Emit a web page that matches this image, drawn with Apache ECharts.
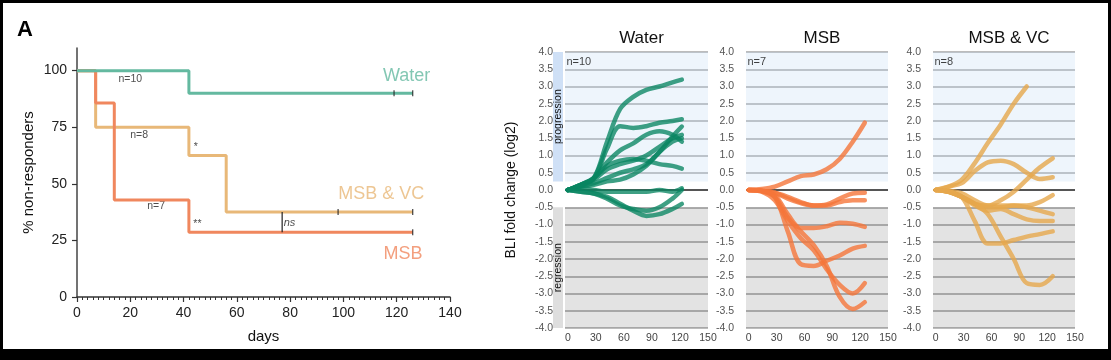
<!DOCTYPE html>
<html><head><meta charset="utf-8">
<script src="https://cdn.jsdelivr.net/npm/echarts@6/dist/echarts.min.js"></script>
<style>
html,body{margin:0;padding:0;background:#fff;}
#c{position:absolute;left:0;top:0;width:1111px;height:360px;}
#frame{position:absolute;left:0;top:0;width:1111px;height:360px;box-sizing:border-box;border-style:solid;border-color:#000;border-width:3px 3px 11px 3px;pointer-events:none;}
</style></head><body>
<div id="c"></div><div id="frame"></div>
<script>
// ---------- Kaplan-Meier (left) ----------
const kmDaysWater = [0, 42, 126];
const kmWater     = [100, 90, 90];
const kmDaysMSB   = [0, 7, 14, 42, 126];
const kmMSB       = [100, 85.7, 42.9, 28.6, 28.6];
const kmDaysVC    = [0, 7, 42, 56, 126];
const kmVC        = [100, 75, 62.5, 37.5, 37.5];
const censorWater = [[119, 90], [126, 90]];
const censorMSB   = [[126, 28.6]];
const censorVC    = [[98, 37.5], [126, 37.5]];
const nsBar       = [[77, 37.5], [77, 28.6]];
const kmYTicks    = [0, 25, 50, 75, 100];
const kmNotes     = [['n=10', 20, 96.2], ['n=8', 23.3, 71.5], ['*', 44.6, 66.4], ['n=7', 29.7, 40.2], ['**', 45.2, 32.3]];
const kmGroupLabels = [['Water', 123.7, 97.7], ['MSB & VC', 114.2, 45.5], ['MSB', 122.4, 19.1]];

// ---------- BLI fold change (right) ----------
const bliTicksX = [0, 30, 60, 90, 120, 150];
const waterDays = [0, 14, 28, 42, 56, 70, 84, 98, 112, 122];
const waterLines = [
  [0, 0.15, 0.35, 1.4, 2.35, 2.7, 2.9, 3.0, 3.12, 3.2],
  [0, 0.15, 0.35, 1.2, 1.85, 1.8, 1.85, 1.95, 2.0, 2.05],
  [0, 0.15, 0.35, 0.8, 1.15, 1.35, 1.6, 1.7, 1.6, 1.4],
  [0, 0.12, 0.3, 0.6, 0.75, 0.85, 1.0, 1.25, 1.5, 1.6],
  [0, 0.1, 0.2, 0.35, 0.5, 0.6, 0.75, 1.1, 1.55, 1.84],
  [0, 0.15, 0.35, 0.7, 0.85, 0.9, 0.85, 0.75, 0.7, 0.62],
  [0, 0.1, 0.15, 0.25, 0.3, 0.45, 0.7, 1.1, 1.4, 1.5],
  [0, 0.05, 0, -0.05, -0.05, -0.05, -0.05, 0, -0.05, 0.05],
  [0, -0.05, -0.1, -0.2, -0.4, -0.6, -0.75, -0.7, -0.55, -0.4],
  [0, -0.05, -0.1, -0.25, -0.45, -0.55, -0.6, -0.5, -0.25, 0.0]
];
const msbDays = [0, 14, 28, 42, 56, 70, 84, 98, 112, 125];
const msbLines = [
  [0, 0.03, 0.1, 0.25, 0.4, 0.45, 0.6, 0.9, 1.4, 1.95],
  [0, -0.02, -0.08, -0.2, -0.35, -0.45, -0.42, -0.25, -0.1, -0.08],
  [0, -0.02, -0.08, -0.25, -0.38, -0.45, -0.45, -0.35, -0.3, -0.3],
  [0, -0.03, -0.15, -0.7, -1.1, -1.1, -1.05, -0.95, -0.98, -1.07],
  [0, -0.03, -0.2, -1.2, -2.15, -2.2, -2.05, -1.9, -1.7, -1.62],
  [0, -0.05, -0.3, -0.9, -1.4, -1.75, -2.3, -2.75, -3.0, -2.7],
  [0, -0.03, -0.2, -0.8, -1.2, -1.6, -2.2, -3.1, -3.45, -3.25]
];
const vcDays = [0, 14, 28, 42, 56, 70, 84, 98, 112, 126];
const vcLines = [
  [0, 0.1, 0.3, 0.78, 1.36, 1.9, 2.5, 3.0],
  [0, 0.1, 0.2, 0.55, 0.8, 0.85, 0.75, 0.5, 0.32, 0.37],
  [0, -0.02, -0.1, -0.3, -0.45, -0.3, -0.05, 0.3, 0.65, 0.92],
  [0, -0.05, -0.2, -0.4, -0.5, -0.5, -0.45, -0.45, -0.35, -0.15],
  [0, -0.05, -0.2, -0.4, -0.45, -0.45, -0.45, -0.5, -0.6, -0.7],
  [0, -0.05, -0.2, -0.45, -0.6, -0.55, -0.7, -0.85, -0.9, -0.9],
  [0, -0.05, -0.2, -0.9, -1.55, -1.55, -1.45, -1.35, -1.28, -1.2],
  [0, -0.05, -0.2, -0.4, -0.7, -1.35, -2.0, -2.7, -2.75, -2.5]
];
const panelTitles = ['Water', 'MSB', 'MSB & VC'];
const panelN = ['n=10', 'n=7', 'n=8'];

const FONT = 'Liberation Sans, Arial, Helvetica, sans-serif';
const C_WATER = '#64b9a0', C_MSB = '#f0875e', C_VC = '#e8b878';
const L_WATER = '#098562', L_MSB = '#f5763a', L_VC = '#e6a84c';

const chart = echarts.init(document.getElementById('c'), null, {renderer: 'canvas'});
const zip = (xs, ys) => ys.map((y, i) => [xs[i], y]);

const gridsR = [
  {left: 565, top: 52, width: 143, height: 276},
  {left: 746, top: 52, width: 142, height: 276},
  {left: 933, top: 52, width: 142, height: 276}
];
const splitColors = [];
for (let i = 0; i < 17; i++) splitColors.push(i === 8 ? '#555555' : '#bcbcbc');

const option = {
  animation: false,
  textStyle: {fontFamily: FONT},
  title: [
    {text: 'A', left: 12, top: 14, textStyle: {fontFamily: FONT, fontSize: 22, fontWeight: 'bold', color: '#000'}},
    ...panelTitles.map((t, i) => ({
      text: t, left: gridsR[i].left + gridsR[i].width / 2, top: 25, textAlign: 'center',
      textStyle: {fontFamily: FONT, fontSize: 17, fontWeight: 'normal', color: '#111'}
    }))
  ],
  grid: [{left: 77, top: 48, width: 373, height: 249}, ...gridsR],
  xAxis: [
    {
      gridIndex: 0, type: 'value', min: 0, max: 140, interval: 20,
      name: 'days', nameLocation: 'middle', nameGap: 32,
      nameTextStyle: {fontFamily: FONT, fontSize: 15, color: '#111'},
      axisLine: {show: true, lineStyle: {color: '#333', width: 1.5}},
      axisTick: {show: true, length: 5, lineStyle: {color: '#333', width: 1.2}},
      minorTick: {show: true, splitNumber: 10, length: 3, lineStyle: {color: '#333', width: 1}},
      axisLabel: {fontFamily: FONT, fontSize: 14, color: '#222', margin: 9},
      splitLine: {show: false}
    },
    ...gridsR.map((g, i) => ({
      gridIndex: i + 1, type: 'value', min: -3, max: 150,
      axisLine: {show: false}, axisTick: {show: false},
      axisLabel: {customValues: bliTicksX, fontFamily: 'Liberation Sans Narrow, Liberation Sans, Arial', fontSize: 10.5, color: '#444', margin: 5},
      splitLine: {show: false}
    }))
  ],
  yAxis: [
    {
      gridIndex: 0, type: 'value', min: 0, max: 110,
      name: '% non-responders', nameLocation: 'middle', nameGap: 41,
      nameTextStyle: {fontFamily: FONT, fontSize: 15, color: '#111'},
      axisLine: {show: true, lineStyle: {color: '#444', width: 1.5}},
      axisTick: {show: true, customValues: kmYTicks, length: 5, lineStyle: {color: '#333', width: 1.2}},
      axisLabel: {customValues: kmYTicks, fontFamily: FONT, fontSize: 14, color: '#222', margin: 10,
                  formatter: v => (v > 100 ? '' : v)},
      splitLine: {show: false}
    },
    ...gridsR.map((g, i) => ({
      gridIndex: i + 1, type: 'value', min: -4, max: 4, interval: 0.5,
      name: i === 0 ? 'BLI fold change (log2)' : '', nameLocation: 'middle', nameGap: 47,
      nameTextStyle: {fontFamily: FONT, fontSize: 14, color: '#111'},
      axisLine: {show: false}, axisTick: {show: false},
      axisLabel: {fontFamily: 'Liberation Sans Narrow, Liberation Sans, Arial', fontSize: 10.5, color: '#555', margin: 12,
                  formatter: v => v.toFixed(1)},
      splitLine: {show: true, lineStyle: {color: splitColors, width: 2}}
    }))
  ],
  series: []
};

// KM series
function kmLine(days, vals, color) {
  return {type: 'line', xAxisIndex: 0, yAxisIndex: 0, step: 'end', data: zip(days, vals),
          showSymbol: false, silent: true, lineStyle: {color: color, width: 3}, z: 3};
}
option.series.push(kmLine(kmDaysVC, kmVC, C_VC));
option.series.push(kmLine(kmDaysMSB, kmMSB, C_MSB));
option.series.push(kmLine(kmDaysWater, kmWater, C_WATER));
option.series.push({type: 'scatter', xAxisIndex: 0, yAxisIndex: 0, silent: true, z: 4,
  data: [...censorWater, ...censorMSB, ...censorVC], symbol: 'rect', symbolSize: [1.3, 6],
  itemStyle: {color: '#222'}});
option.series.push({type: 'line', xAxisIndex: 0, yAxisIndex: 0, silent: true, data: nsBar,
  showSymbol: false, lineStyle: {color: '#222', width: 1.2}, z: 4});
option.series.push({type: 'scatter', xAxisIndex: 0, yAxisIndex: 0, silent: true, symbolSize: 0,
  data: [...kmNotes.map(n => ({name: n[0], value: [n[1], n[2]]})),
         {name: 'ns', value: [77.6, 32.8], label: {align: 'left', fontStyle: 'italic', fontSize: 11}}],
  label: {show: true, position: 'inside', formatter: p => p.name, color: '#222', fontFamily: FONT, fontSize: 10.5}});
const grpColors = [C_WATER, C_VC, C_MSB];
option.series.push({type: 'scatter', xAxisIndex: 0, yAxisIndex: 0, silent: true, symbolSize: 0,
  data: kmGroupLabels.map((g, i) => ({name: g[0], value: [g[1], g[2]], label: {color: grpColors[i]}})),
  label: {show: true, position: 'inside', formatter: p => p.name, fontFamily: FONT, fontSize: 18}});

// BLI series
const groups = [[waterDays, waterLines, L_WATER, 0.78], [msbDays, msbLines, L_MSB, 0.8], [vcDays, vcLines, L_VC, 0.8]];
groups.forEach((g, gi) => {
  const ax = gi + 1;
  // background regions + n label
  option.series.push({type: 'line', xAxisIndex: ax, yAxisIndex: ax, data: [], silent: true,
    markArea: {silent: true, data: [
      [{yAxis: 0.25, itemStyle: {color: 'rgba(190,215,245,0.26)'}}, {yAxis: 4}],
      [{yAxis: -4, itemStyle: {color: 'rgba(0,0,0,0.11)'}}, {yAxis: -0.5}]
    ]}});
  option.series.push({type: 'scatter', xAxisIndex: ax, yAxisIndex: ax, silent: true, symbolSize: 0, z: 6,
    data: [{name: panelN[gi], value: [-1.5, 3.7]}],
    label: {show: true, position: 'inside', align: 'left', formatter: p => p.name, color: '#111', fontFamily: FONT, fontSize: 11}});
  g[1].forEach(vals => {
    option.series.push({type: 'line', xAxisIndex: ax, yAxisIndex: ax, silent: true,
      data: zip(g[0], vals), smooth: 0.35, showSymbol: false,
      lineStyle: {color: g[2], width: 4.5, opacity: g[3], cap: 'round', join: 'round'}, z: 3});
  });
});

chart.setOption(option);

// progression / regression strips beside the Water panel
const pTop = chart.convertToPixel({gridIndex: 1}, [0, 4]);
const pMid = chart.convertToPixel({gridIndex: 1}, [0, 0.25]);
const rTop = chart.convertToPixel({gridIndex: 1}, [0, -0.5]);
const rBot = chart.convertToPixel({gridIndex: 1}, [0, -4]);
const left0 = chart.convertToPixel({gridIndex: 1}, [-3, 0])[0];
const sx = left0 - 12, sw = 10;
chart.setOption({graphic: [
  {type: 'rect', silent: true, shape: {x: sx, y: pTop[1], width: sw, height: pMid[1] - pTop[1]}, style: {fill: '#cfe0f6'}},
  {type: 'rect', silent: true, shape: {x: sx, y: rTop[1], width: sw, height: rBot[1] - rTop[1]}, style: {fill: '#dedede'}},
  {type: 'text', silent: true, x: sx + sw / 2, y: (pTop[1] + pMid[1]) / 2, rotation: Math.PI / 2,
   style: {text: 'progression', fill: '#111', font: '10.5px ' + FONT, align: 'center', verticalAlign: 'middle'}},
  {type: 'text', silent: true, x: sx + sw / 2, y: (rTop[1] + rBot[1]) / 2, rotation: Math.PI / 2,
   style: {text: 'regression', fill: '#111', font: '10.5px ' + FONT, align: 'center', verticalAlign: 'middle'}}
]});
</script>
</body></html>
